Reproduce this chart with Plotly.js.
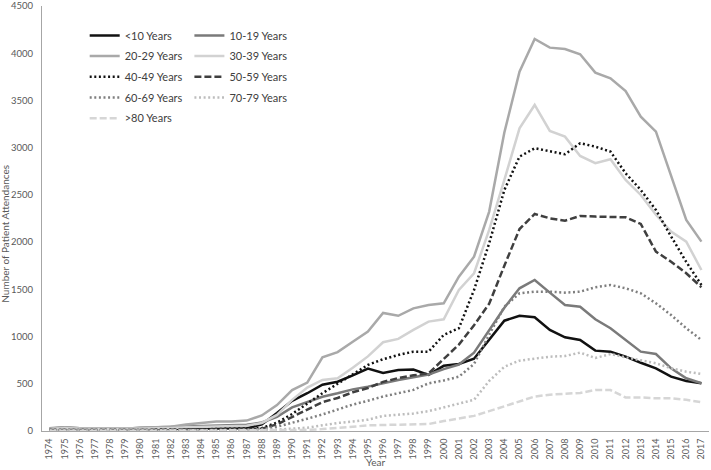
<!DOCTYPE html>
<html>
<head>
<meta charset="utf-8">
<script src="https://cdn.plot.ly/plotly-3.0.1.min.js"></script>
<style>html,body{margin:0;padding:0;background:#fff;}#chart{width:711px;height:470px;}</style>
</head>
<body>
<div id="chart"></div>
<script>
var years = [1974,1975,1976,1977,1978,1979,1980,1981,1982,1983,1984,1985,1986,1987,1988,1989,1990,1991,1992,1993,1994,1995,1996,1997,1998,1999,2000,2001,2002,2003,2004,2005,2006,2007,2008,2009,2010,2011,2012,2013,2014,2015,2016,2017];

var under10 = [20,25,20,20,20,15,20,20,20,25,25,25,25,30,70,190,320,400,490,522,590,660,615,645,650,595,690,709,765,964,1168,1220,1204,1070,992,964,851,840,787,723,664,575,529,505];
var y10_19 = [30,40,30,30,30,25,35,40,40,50,55,55,60,65,90,150,250,310,363,399,441,470,508,540,570,598,655,704,830,1070,1305,1511,1599,1465,1334,1316,1183,1088,964,840,815,664,558,505];
var y20_29 = [25,40,30,30,30,25,35,40,45,70,85,100,100,110,165,275,434,512,780,835,946,1052,1250,1220,1299,1334,1352,1634,1846,2323,3160,3805,4151,4059,4045,3989,3795,3735,3600,3328,3170,2693,2234,2005];
var y30_39 = [20,30,25,25,25,20,25,30,30,40,45,50,50,55,85,170,330,460,540,558,670,790,940,975,1070,1158,1183,1493,1670,2129,2658,3205,3452,3177,3117,2912,2835,2877,2658,2499,2290,2111,2005,1705];
var y40_49 = [10,12,10,10,10,8,10,12,12,15,15,15,18,20,30,90,180,290,400,500,600,700,760,805,840,840,1017,1088,1493,1988,2552,2905,2994,2958,2930,3047,3011,2958,2729,2552,2340,2060,1790,1546];
var y50_59 = [10,12,10,10,10,8,10,12,12,15,15,15,15,18,25,70,150,230,305,350,410,455,520,560,590,610,760,915,1120,1348,1750,2138,2298,2252,2227,2277,2270,2263,2263,2192,1899,1793,1670,1522];
var y60_69 = [8,10,8,8,8,6,8,10,10,12,12,12,12,15,20,45,85,130,175,230,280,320,365,400,435,505,535,575,710,1020,1316,1458,1475,1475,1465,1475,1522,1546,1511,1458,1352,1228,1088,964];
var y70_79 = [5,6,5,5,5,4,5,6,6,7,7,7,8,9,12,15,25,35,60,85,100,120,160,175,185,210,250,290,330,530,680,745,765,787,794,830,773,815,780,752,717,664,628,604];
var over80 = [3,4,3,3,3,3,3,4,4,4,4,4,5,5,6,8,10,12,20,30,45,60,65,70,74,74,105,135,160,210,260,310,365,385,393,403,434,434,355,355,346,346,330,305];

var names = ["<10 Years","10-19 Years","20-29 Years","30-39 Years","40-49 Years","50-59 Years","60-69 Years","70-79 Years",">80 Years"];
var seriesData = [under10,y10_19,y20_29,y30_39,y40_49,y50_59,y60_69,y70_79,over80];
var colors = ["#111111","#7a7a7a","#a9a9a9","#d2d2d2","#111111","#3f3f3f","#7f7f7f","#bdbdbd","#d6d6d6"];
var dashes = ["solid","solid","solid","solid","2px,2.6px","7px,3px","2px,2.6px","2px,2.6px","7px,3px"];
var legendOf = ["legend","legend2","legend","legend2","legend","legend2","legend","legend2","legend"];

var traces = [];
for (var i = 0; i < seriesData.length; i++) {
  traces.push({
    x: years, y: seriesData[i], name: names[i], type: "scatter", mode: "lines",
    line: {color: colors[i], width: 2.5, dash: dashes[i]},
    legend: legendOf[i], legendgroup: "g" + i, hoverinfo: "skip"
  });
}

var fontFam = "Lato, 'Open Sans', sans-serif";
var legendStyle = {
  font: {family: fontFam, size: 11, color: "#404040"},
  bgcolor: "rgba(0,0,0,0)", borderwidth: 0,
  traceorder: "grouped", tracegroupgap: 1.7,
  xanchor: "left", yanchor: "top", itemwidth: 30
};

var layout = {
  width: 711, height: 470,
  margin: {l: 42, r: 2, t: 6, b: 39},
  paper_bgcolor: "#ffffff", plot_bgcolor: "#ffffff",
  font: {family: fontFam, size: 10, color: "#595959"},
  showlegend: true,
  legend: Object.assign({}, legendStyle, {x: 0.064, y: 0.965}),
  legend2: Object.assign({}, legendStyle, {x: 0.221, y: 0.965}),
  xaxis: {
    range: [1973.5, 2017.5], tickmode: "linear", tick0: 1974, dtick: 1,
    tickangle: -90, showgrid: false, zeroline: false,
    showline: true, linecolor: "#a6a6a6", linewidth: 1,
    ticks: "", ticklabelstandoff: 3, ticklabeloverflow: "allow",
    tickfont: {family: fontFam, size: 9, color: "#595959"}
  },
  yaxis: {
    range: [0, 4500], tickmode: "linear", tick0: 0, dtick: 500,
    showgrid: false, zeroline: false,
    showline: true, linecolor: "#a6a6a6", linewidth: 1,
    ticks: "", ticklabelstandoff: 6, ticklabeloverflow: "allow",
    tickfont: {family: fontFam, size: 9.5, color: "#595959"}
  },
  annotations: [
    {text: "Number of Patient Attendances", xref: "paper", yref: "paper",
     x: -0.055, y: 0.465, xanchor: "center", yanchor: "middle", textangle: -90,
     showarrow: false, font: {family: fontFam, size: 10, color: "#595959"}},
    {text: "Year", xref: "paper", yref: "paper",
     x: 0.5, y: -0.073, xanchor: "center", yanchor: "middle",
     showarrow: false, font: {family: fontFam, size: 10, color: "#595959"}}
  ]
};

Plotly.newPlot("chart", traces, layout, {staticPlot: true, displayModeBar: false});
</script>
</body>
</html>
